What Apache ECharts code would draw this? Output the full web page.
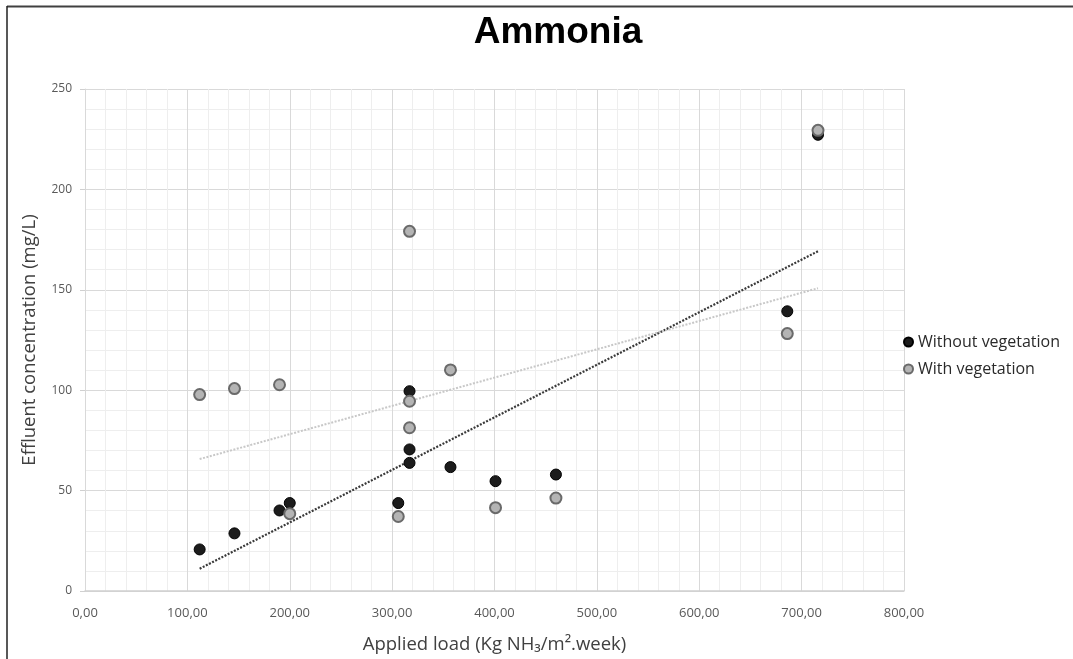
<!DOCTYPE html>
<html>
<head>
<meta charset="utf-8">
<script src="https://cdn.jsdelivr.net/npm/echarts@6/dist/echarts.min.js"></script>
<style>
html,body{margin:0;padding:0;background:#fff;}
#c{width:1073px;height:659px;}
</style>
</head>
<body>
<div id="c"></div>
<script>
// Applied load (x) values
const loads = [112, 146, 190, 200, 306, 317, 317, 317, 357, 401, 460, 686, 716];
// Effluent concentration without vegetation
const withoutVeg = [20.7, 28.7, 40.1, 43.8, 43.8, 99.5, 70.5, 63.8, 61.7, 54.7, 58.0, 139.3, 227.2];
// Effluent concentration with vegetation
const withVeg = [97.8, 100.8, 102.7, 38.5, 37.1, 179.1, 94.5, 81.3, 110.1, 41.5, 46.3, 128.2, 229.4];
// Linear trendline endpoints
const trendX = [112, 716];
const trendWithout = [11.1, 169.2];
const trendWith = [65.7, 150.8];

const pairs = (xs, ys) => xs.map((x, i) => [x, ys[i]]);

const chart = echarts.init(document.getElementById('c'), null, {renderer: 'canvas'});
const option = {
  backgroundColor: '#fff',
  animation: false,
  title: {
    text: 'Ammonia',
    left: 553, top: 9, textAlign: 'center',
    textStyle: {fontFamily: 'Liberation Sans', fontWeight: 'bold', fontSize: 37, color: '#000'}
  },
  graphic: [
    {type: 'line', shape: {x1: 7, y1: 6.5, x2: 1073, y2: 6.5}, style: {stroke: '#404040', lineWidth: 2}},
    {type: 'line', shape: {x1: 7, y1: 6, x2: 7, y2: 659}, style: {stroke: '#202020', lineWidth: 1.5}}
  ],
  legend: {
    data: ['Without vegetation', 'With vegetation'],
    orient: 'vertical',
    left: 898, top: 329,
    itemWidth: 9, itemHeight: 9, itemGap: 11,
    textStyle: {fontFamily: 'Open Sans', fontSize: 16, color: '#2a2a2a'}
  },
  grid: {left: 85, top: 89, width: 819, height: 503},
  xAxis: {
    type: 'value', min: 0, max: 800, interval: 100,
    name: 'Applied load (Kg NH\u2083/m\u00b2.week)',
    nameLocation: 'middle', nameGap: 44,
    nameTextStyle: {fontFamily: 'Open Sans', fontSize: 18.5, color: '#404040'},
    axisLine: {show: true, lineStyle: {color: '#d0d0d0', width: 1.5}},
    axisTick: {show: false},
    axisLabel: {
      fontFamily: 'Open Sans', fontSize: 13, color: '#595959', margin: 16,
      formatter: v => v.toFixed(2).replace('.', ',')
    },
    splitLine: {show: true, lineStyle: {color: '#d9d9d9', width: 1}},
    minorTick: {show: false, splitNumber: 5},
    minorSplitLine: {show: true, lineStyle: {color: '#eeeeee', width: 1}}
  },
  yAxis: {
    type: 'value', min: 0, max: 250, interval: 50,
    name: 'Effluent concentration (mg/L)',
    nameLocation: 'middle', nameGap: 46,
    nameTextStyle: {fontFamily: 'Open Sans', fontSize: 18.5, color: '#404040'},
    axisLine: {show: true, lineStyle: {color: '#d9d9d9', width: 1}},
    axisTick: {show: true, length: 5, lineStyle: {color: '#d0d0d0'}},
    axisLabel: {fontFamily: 'Open Sans', fontSize: 12, color: '#595959', margin: 13},
    splitLine: {show: true, lineStyle: {color: '#d9d9d9', width: 1}},
    minorTick: {show: false, splitNumber: 5},
    minorSplitLine: {show: true, lineStyle: {color: '#eeeeee', width: 1}}
  },
  series: [
    {
      name: 'trend without', type: 'line', data: pairs(trendX, trendWithout),
      symbol: 'none', z: 3,
      lineStyle: {color: '#3a3a3a', width: 2.2, type: [2, 1.5]}
    },
    {
      name: 'trend with', type: 'line', data: pairs(trendX, trendWith),
      symbol: 'none', z: 3,
      lineStyle: {color: '#c8c8c8', width: 2, type: [2, 1.5]}
    },
    {
      name: 'Without vegetation', type: 'scatter', data: pairs(loads, withoutVeg),
      symbol: 'circle', symbolSize: 11, z: 4,
      itemStyle: {color: '#1c1c1c', borderColor: '#000', borderWidth: 1, opacity: 1}
    },
    {
      name: 'With vegetation', type: 'scatter', data: pairs(loads, withVeg),
      symbol: 'circle', symbolSize: 11, z: 5,
      itemStyle: {color: '#b4b4b4', borderColor: '#6a6a6a', borderWidth: 2, opacity: 1}
    }
  ]
};
chart.setOption(option);
</script>
</body>
</html>
